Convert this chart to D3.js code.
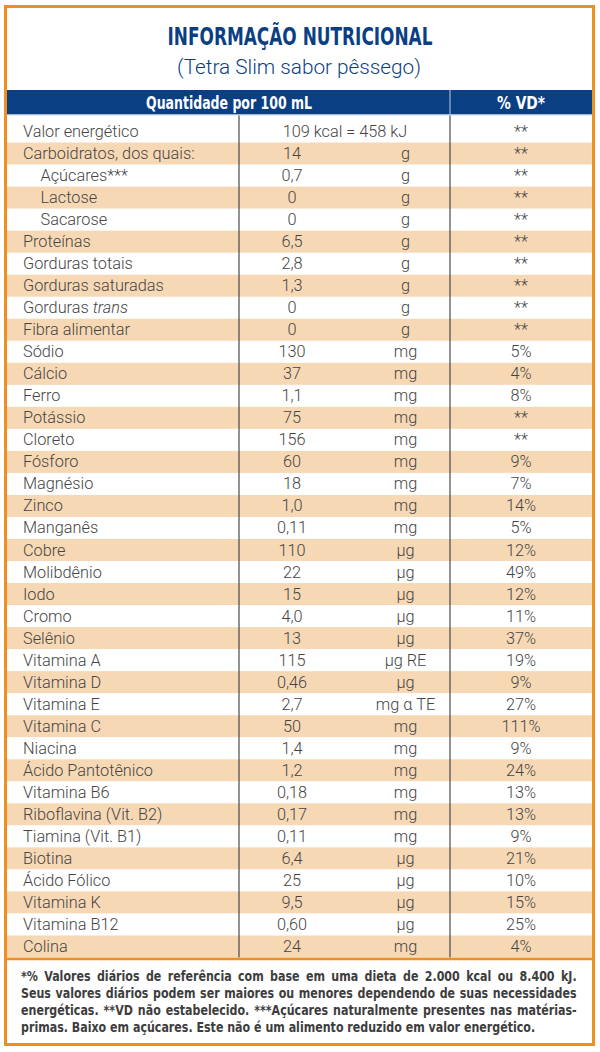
<!DOCTYPE html>
<html>
<head>
<meta charset="utf-8">
<script src="https://cdn.jsdelivr.net/npm/d3@7"></script>
<style>
  html, body { margin: 0; padding: 0; background: #fff; }
  svg { display: block; }
</style>
</head>
<body>
<svg id="chart" width="600" height="1052"></svg>
<script>
// ---- DATA ----
const titleText = "INFORMAÇÃO NUTRICIONAL";
const subtitleText = "(Tetra Slim sabor pêssego)";
const headerLabels = ["Quantidade por 100 mL", "% VD*"];

const nutrients = [
  "Valor energético", "Carboidratos, dos quais:", "Açúcares***", "Lactose", "Sacarose",
  "Proteínas", "Gorduras totais", "Gorduras saturadas", "Gorduras trans", "Fibra alimentar",
  "Sódio", "Cálcio", "Ferro", "Potássio", "Cloreto", "Fósforo", "Magnésio", "Zinco",
  "Manganês", "Cobre", "Molibdênio", "Iodo", "Cromo", "Selênio", "Vitamina A",
  "Vitamina D", "Vitamina E", "Vitamina C", "Niacina", "Ácido Pantotênico", "Vitamina B6",
  "Riboflavina (Vit. B2)", "Tiamina (Vit. B1)", "Biotina", "Ácido Fólico", "Vitamina K",
  "Vitamina B12", "Colina"
];
const amounts = [
  "109 kcal = 458 kJ", "14", "0,7", "0", "0",
  "6,5", "2,8", "1,3", "0", "0",
  "130", "37", "1,1", "75", "156", "60", "18", "1,0",
  "0,11", "110", "22", "15", "4,0", "13", "115",
  "0,46", "2,7", "50", "1,4", "1,2", "0,18",
  "0,17", "0,11", "6,4", "25", "9,5",
  "0,60", "24"
];
const units = [
  "", "g", "g", "g", "g",
  "g", "g", "g", "g", "g",
  "mg", "mg", "mg", "mg", "mg", "mg", "mg", "mg",
  "mg", "µg", "µg", "µg", "µg", "µg", "µg RE",
  "µg", "mg α TE", "mg", "mg", "mg", "mg",
  "mg", "mg", "µg", "µg", "µg",
  "µg", "mg"
];
const vd = [
  "**", "**", "**", "**", "**",
  "**", "**", "**", "**", "**",
  "5%", "4%", "8%", "**", "**", "9%", "7%", "14%",
  "5%", "12%", "49%", "12%", "11%", "37%", "19%",
  "9%", "27%", "111%", "9%", "24%", "13%",
  "13%", "9%", "21%", "10%", "15%",
  "25%", "4%"
];
const indented = ["Açúcares***", "Lactose", "Sacarose"];
const italicWords = { "Gorduras trans": "trans" };

const footerLines = [
  "*% Valores diários de referência com base em uma dieta de 2.000 kcal ou 8.400 kJ.",
  "Seus valores diários podem ser maiores ou menores dependendo de suas necessidades",
  "energéticas. **VD não estabelecido. ***Açúcares naturalmente presentes nas matérias-",
  "primas. Baixo em açúcares. Este não é um alimento reduzido em valor energético."
];

// ---- STYLE / LAYOUT ----
const ORANGE = "#ee8f1f", NAVY = "#0b3f84", PEACH = "#f7d8b5", TEXT = "#454545";
const bodyFont = "Roboto, 'Noto Sans', sans-serif";
const condFont = "'Liberation Sans Narrow', 'DejaVu Sans Condensed', Roboto, sans-serif";

const svg = d3.select("#chart");

const rows = nutrients.map((n, i) => ({ name: n, amount: amounts[i], unit: units[i], vd: vd[i], i }));

const tableTop = 120.5, tableBottom = 957.5;
const y = d3.scaleBand().domain(d3.range(rows.length)).range([tableTop, tableBottom]).padding(0);

const colX = { left: 7, div1: 239, div2: 450, right: 592 };
const xName = 23, xIndent = 40.5, xAmount = 292, xUnit = 405.5, xVD = 521, xEnergy = 345;

// row backgrounds
svg.append("g").selectAll("rect").data(rows).join("rect")
  .attr("x", colX.left).attr("width", colX.right - colX.left)
  .attr("y", d => y(d.i)).attr("height", y.bandwidth() + 0.3)
  .attr("fill", d => d.i % 2 === 1 ? PEACH : "#fff");

// header band
svg.append("rect").attr("x", colX.left).attr("y", 90).attr("width", colX.right - colX.left).attr("height", 24.5).attr("fill", NAVY);
svg.append("line").attr("x1", colX.div2).attr("x2", colX.div2).attr("y1", 90).attr("y2", 114.5)
  .attr("stroke", "#9fb6d6").attr("stroke-width", 1.2);
svg.append("line").attr("x1", colX.left).attr("x2", colX.right).attr("y1", 115).attr("y2", 115)
  .attr("stroke", "#c9d6e8").attr("stroke-width", 1);

function fitText(sel, width) {
  const n = sel.node().getComputedTextLength();
  if (n > width) sel.attr("textLength", width).attr("lengthAdjust", "spacingAndGlyphs");
}
const h1 = svg.append("text").attr("x", 229).attr("y", 108.5).attr("text-anchor", "middle")
  .attr("font-family", condFont).attr("font-weight", "bold").attr("font-size", 17.5).attr("fill", "#fff")
  .text(headerLabels[0]);
fitText(h1, 166);
const h2 = svg.append("text").attr("x", 521).attr("y", 108.5).attr("text-anchor", "middle")
  .attr("font-family", condFont).attr("font-weight", "bold").attr("font-size", 17.5).attr("fill", "#fff")
  .text(headerLabels[1]);
fitText(h2, 48);

// vertical dividers
[colX.div1, colX.div2].forEach(x => {
  svg.append("line").attr("x1", x).attr("x2", x).attr("y1", 115.5).attr("y2", tableBottom)
    .attr("stroke", "#3a3a3a").attr("stroke-width", 1.1);
});

// row texts
const g = svg.append("g").attr("font-family", bodyFont).attr("font-weight", 300)
  .attr("font-size", 16.3).attr("fill", TEXT);

const rowG = g.selectAll("g.row").data(rows).join("g").attr("class", "row")
  .attr("transform", d => `translate(0,${y(d.i) + y.bandwidth() / 2 + 5.5})`);

rowG.each(function (d) {
  const sel = d3.select(this);
  const t = sel.append("text").attr("x", indented.includes(d.name) ? xIndent : xName);
  if (italicWords[d.name]) {
    const w = italicWords[d.name];
    const base = d.name.replace(w, "");
    t.append("tspan").text(base);
    t.append("tspan").attr("font-style", "italic").text(w);
  } else {
    t.text(d.name);
  }
  if (d.unit === "") {
    sel.append("text").attr("x", xEnergy).attr("text-anchor", "middle").text(d.amount);
  } else {
    sel.append("text").attr("x", xAmount).attr("text-anchor", "middle").text(d.amount);
    sel.append("text").attr("x", xUnit).attr("text-anchor", "middle").text(d.unit);
  }
  sel.append("text").attr("x", xVD).attr("text-anchor", "middle").text(d.vd);
});

// title
svg.append("text").attr("x", 300).attr("y", 44.5).attr("text-anchor", "middle")
  .attr("font-family", condFont).attr("font-weight", "bold").attr("font-size", 25).attr("fill", NAVY)
  .attr("textLength", 265).attr("lengthAdjust", "spacingAndGlyphs")
  .text(titleText);
svg.append("text").attr("x", 299).attr("y", 74).attr("text-anchor", "middle")
  .attr("font-family", bodyFont).attr("font-weight", 300).attr("font-size", 21).attr("fill", NAVY)
  .attr("textLength", 244).attr("lengthAdjust", "spacingAndGlyphs")
  .text(subtitleText);

// separator above footer
svg.append("line").attr("x1", 5).attr("x2", 594).attr("y1", 959).attr("y2", 959)
  .attr("stroke", ORANGE).attr("stroke-width", 2.5);

// footer, justified (compressed horizontally to fit)
const fx0 = 21, fx1 = 577, fW = fx1 - fx0;
const fBase = [981, 998, 1015, 1032];
const fg = svg.append("g");
const ftexts = footerLines.map((line, i) =>
  fg.append("text").attr("x", 0).attr("y", fBase[i])
    .attr("font-family", condFont).attr("font-weight", "bold").attr("font-size", 14.5).attr("fill", "#3d3d3d")
    .text(line));
const nat = ftexts.map(t => t.node().getComputedTextLength());
const maxFull = d3.max(nat.slice(0, 3));
const k = Math.min(1, fW / maxFull * 0.985);
fg.attr("transform", `translate(${fx0},0) scale(${k},1)`);
ftexts.forEach((t, i) => {
  if (i < footerLines.length - 1) {
    const spaces = (footerLines[i].match(/ /g) || []).length;
    t.attr("word-spacing", (fW / k - nat[i]) / spaces);
  }
});

// outer border
svg.append("rect").attr("x", 5.5).attr("y", 6.5).attr("width", 588).attr("height", 1038)
  .attr("fill", "none").attr("stroke", ORANGE).attr("stroke-width", 3);
</script>
</body>
</html>
